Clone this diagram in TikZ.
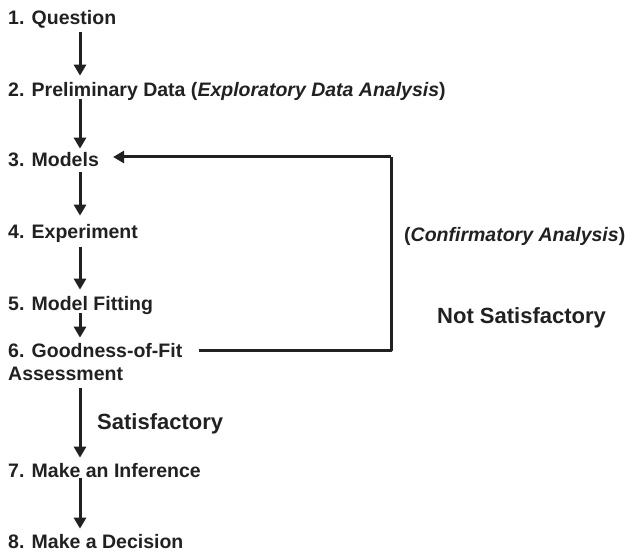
\documentclass[tikz,border=0pt]{standalone}
\usepackage{fontspec}
\setmainfont{Liberation Sans}
\usetikzlibrary{arrows.meta,calc}
\definecolor{ink}{rgb}{0.13,0.13,0.13}
\begin{document}
\begin{tikzpicture}[x=1pt,y=-1pt,
  steptext/.style={anchor=base west,inner sep=0pt,text=ink,font=\fontsize{19.5}{22}\selectfont\bfseries},
  biglabel/.style={anchor=base west,inner sep=0pt,text=ink,font=\fontsize{22}{26}\selectfont\bfseries},
  arr/.style={draw=ink,line width=3pt,-{Triangle[width=12pt,length=11pt]}},
  loopline/.style={draw=ink,line width=3pt,line join=round}]
\useasboundingbox (0,0) rectangle (632,553);
\coordinate (ax) at (80,0);
\coordinate (rt) at (391,157);
\node[steptext] (n1) at (8,25) {1. Question};
\node[steptext] (n2) at (8,97) {2. Preliminary Data (\textit{Exploratory Data Analysis})};
\node[steptext] (n3) at (8,167) {3. Models};
\node[steptext] (n4) at (8,239) {4. Experiment};
\node[steptext] (n5) at (8,311) {5. Model Fitting};
\node[steptext] (n6) at (8,358) {6. Goodness-of-Fit};
\node[steptext] (n6b) at (8,381) {Assessment};
\node[steptext] (n7) at (8,477) {7. Make an Inference};
\node[steptext] (n8) at (8,548) {8. Make a Decision};
\node[biglabel] (sat) at (97,429) {Satisfactory};
\node[steptext] (conf) at (404,242) {(\textit{Confirmatory Analysis})};
\node[biglabel] (nsat) at (437,324) {Not Satisfactory};
\draw[arr] ($(n1.base -| ax)+(0,7)$) -- ($(n2.north -| ax)+(0,-7)$);
\draw[arr] ($(n2.base -| ax)+(0,2)$) -- ($(n3.north -| ax)+(0,-4)$);
\draw[arr] ($(n3.base -| ax)+(0,5)$) -- ($(n4.north -| ax)+(0,-9)$);
\draw[arr] ($(n4.base -| ax)+(0,8)$) -- ($(n5.north -| ax)+(0,-7)$);
\draw[arr] ($(n5.base -| ax)+(0,2)$) -- ($(n6.north -| ax)+(0,-6)$);
\draw[arr] ($(n6b.base -| ax)+(0,7)$) -- ($(n7.north -| ax)+(0,-5)$);
\draw[arr] ($(n7.base -| ax)+(0,1)$) -- ($(n8.north -| ax)+(0,-5)$);
\draw[loopline] ($(n6.base west)+(191,-7)$) -| (rt);
\draw[arr,line join=round] (rt) -- ($(n3.base east)+(14,-10)$);
\end{tikzpicture}
\end{document}
